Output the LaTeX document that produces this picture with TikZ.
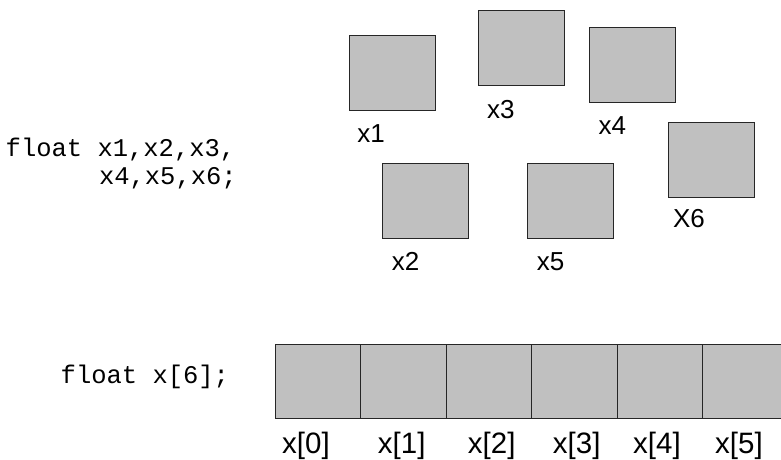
\documentclass[tikz,border=0pt]{standalone}
\usepackage{fontspec}
\setmainfont{Liberation Sans}
\newfontfamily\codefont{Liberation Mono}
\definecolor{cellgray}{HTML}{C0C0C0}
\begin{document}
\begin{tikzpicture}[x=1pt,y=-1pt,
  box/.style={draw=black!85,fill=cellgray,line width=0.9pt,minimum width=86pt,minimum height=75pt,inner sep=0pt,outer sep=0pt},
  cell/.style={draw=black!85,fill=cellgray,line width=0.9pt,minimum width=85.5pt,minimum height=74.3pt,inner sep=0pt,outer sep=0pt},
  lab/.style={anchor=base,inner sep=0pt,font=\fontsize{26}{28}\selectfont},
  alab/.style={anchor=base,inner sep=0pt,font=\fontsize{29.5}{32}\selectfont},
  code/.style={anchor=base west,inner sep=0pt,font=\codefont\fontsize{25.5}{28}\selectfont}]
\useasboundingbox (0,0) rectangle (781,460);
\clip (0,0) rectangle (781,460);
% separate variables
\node[box] (b1) at (392.3,72.7) {};
\node[box] (b3) at (521,48) {};
\node[box] (b4) at (632.8,64.5) {};
\node[box] (b6) at (711.5,159.8) {};
\node[box] (b2) at (425.5,201.2) {};
\node[box] (b5) at (570.7,201.2) {};
\node[lab] (l1) at (371,142) {x1};
\node[lab] (l3) at (500.8,118) {x3};
\node[lab] (l4) at (612.3,134) {x4};
\node[lab] (l6) at (689,227) {X6};
\node[lab] (l2) at (405.5,270.7) {x2};
\node[lab] (l5) at (550.5,270.7) {x5};
% code
\node[code] (c1) at (5.5,156) {float x1,x2,x3,};
\node[code] (c2) at (98.8,184) {x4,x5,x6;};
\node[code] (c3) at (60.5,383) {float x[6];};
% array
\foreach \i in {0,...,5}{
  \node[cell] (a\i) at ({317.75+\i*85.5},381.2) {};
}
\node[alab] (al0) at (306,453) {x[0]};
\node[alab] (al1) at (401.7,453) {x[1]};
\node[alab] (al2) at (491.7,453) {x[2]};
\node[alab] (al3) at (576.7,453) {x[3]};
\node[alab] (al4) at (657,453) {x[4]};
\node[alab] (al5) at (739,453) {x[5]};
\end{tikzpicture}
\end{document}
